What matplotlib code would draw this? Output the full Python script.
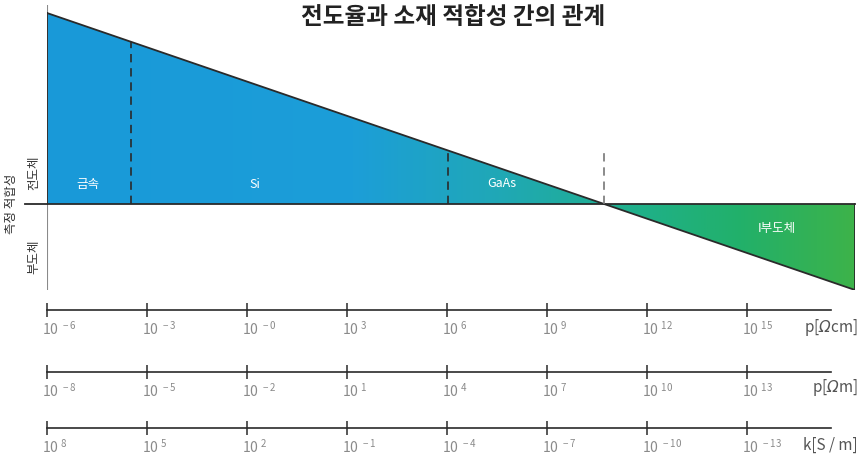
"""
Conductivity vs. material suitability chart with three resistivity/conductivity scales
"""

import matplotlib
matplotlib.use('Agg')
import numpy as np
import matplotlib.pyplot as plt
from matplotlib.colors import LinearSegmentedColormap
from matplotlib.path import Path
from matplotlib.patches import PathPatch
from matplotlib.transforms import ScaledTranslation

plt.rcParams['font.family'] = ['Noto Sans CJK KR', 'DejaVu Sans']
# slanted Omega in the unit labels
plt.rcParams['mathtext.fontset'] = 'custom'
plt.rcParams['mathtext.rm'] = 'DejaVu Sans:italic'
plt.rcParams['mathtext.it'] = 'DejaVu Sans:italic'

W, H = 861, 457

# suitability line: log10(rho [Ohm cm]) at both ends and the suitability there
rho_range = [-6.0, 18.24]
suitability = [1.0, -0.45]

# material regions
materials = ['금속', 'Si', 'GaAs', 'I부도체']
material_x = [-4.77, 0.24, 7.65, 15.9]
material_y = [0.10, 0.10, 0.11, -0.13]
borders = [-3.48, 6.03]   # metal/Si, Si/GaAs
marker_top = 0.28         # height of the dashed mark at the zero crossing

# scale ticks, in log10(rho [Ohm cm])
scale_ticks = [-6, -3, 0, 3, 6, 9, 12, 15]
rho_cm_labels = ['-6', '-3', '-0', '3', '6', '9', '12', '15']
rho_m_labels = ['-8', '-5', '-2', '1', '4', '7', '10', '13']
kappa_labels = ['8', '5', '2', '-1', '-4', '-7', '-10', '-13']
scale_units = [r'p[$\Omega$cm]', r'p[$\Omega$m]', 'k[S / m]']

grad_colors = [(0.0, '#1999d9'), (0.38, '#1c9ed8'), (0.56, '#20a8b6'),
               (0.73, '#1fb08a'), (0.86, '#22b06a'), (1.0, '#3db34a')]


def px_box(x0, y0, x1, y1):
    """ figure-fraction rect from pixel corners (y measured from top) """
    return [x0 / W, 1 - y1 / H, (x1 - x0) / W, (y1 - y0) / H]


fig = plt.figure(figsize=(W / 100, H / 100), dpi=100)

# ---- main panel ----
ax = fig.add_axes(px_box(47, 5, 855, 290))
ax.set_xlim(rho_range)
ax.set_ylim(suitability[1], 1.0 + 8 / 191)
ax.set_axis_off()

x0, x1 = rho_range
y0, y1 = suitability
xc = x0 + (x1 - x0) * y0 / (y0 - y1)  # zero crossing

upper = Path([(x0, 0), (x0, y0), (xc, 0), (x0, 0)], closed=True)
lower = Path([(xc, 0), (x1, 0), (x1, y1), (xc, 0)], closed=True)
shape = PathPatch(Path.make_compound_path(upper, lower), facecolor='none',
                  edgecolor='none', transform=ax.transData)
ax.add_patch(shape)

cmap = LinearSegmentedColormap.from_list('cond', grad_colors)
im = ax.imshow(np.linspace(0, 1, 512)[None, :], cmap=cmap, aspect='auto',
               extent=[x0, x1, y1, y0], origin='lower', zorder=1)
im.set_clip_path(shape)

# outline
ax.plot(rho_range, suitability, color='#2a2a2a', lw=1.3, zorder=3)
ax.plot([x0 - 0.66, x1], [0, 0], color='#2a2a2a', lw=1.3, zorder=3,
        clip_on=False)
ax.plot([x1, x1], [0, y1], color='#2a2a2a', lw=1.3, zorder=3)
ax.plot([x0, x0], [ax.get_ylim()[1], y1], color='#8a8a8a', lw=1.5, zorder=2)
ax.plot([x0, x0], [0, y0], color='#2a2a2a', lw=1.3, zorder=3)

for b in borders:
    top = np.interp(b, rho_range, suitability)
    ax.plot([b, b], [0, top], color='#2a2a2a', lw=1.2, ls=(0, (5, 3.5)),
            zorder=3)
ax.plot([xc, xc], [0, marker_top], color='#777777', lw=1.2,
        ls=(0, (5, 3.5)), zorder=3)

for name, mx, my in zip(materials, material_x, material_y):
    ax.text(mx, my, name, color='white', fontsize=9, ha='center',
            va='center', zorder=4)

# ---- side labels ----
fig.text(12 / W, 1 - 204 / H, '측정 적합성', rotation=90, ha='center',
         va='center', fontsize=9, color='#333333')
fig.text(34 / W, 1 - 173 / H, '전도체', rotation=90, ha='center',
         va='center', fontsize=9, color='#333333')
fig.text(34 / W, 1 - 257 / H, '부도체', rotation=90, ha='center',
         va='center', fontsize=9, color='#333333')

fig.text(453 / W, 1 - 17 / H, '전도율과 소재 적합성 간의 관계',
         ha='center', va='center', fontsize=17, fontweight='bold',
         color='#222222')

# ---- scales ----
scale_y = [310, 372, 428]
unit_y = [328, 388, 445]
shift = ScaledTranslation(-5 / 100, 0, fig.dpi_scale_trans)
for sy, uy, labels, unit in zip(scale_y, unit_y,
                                [rho_cm_labels, rho_m_labels, kappa_labels],
                                scale_units):
    sax = fig.add_axes(px_box(47, sy - 4, 831, sy))
    sax.set_xlim(x0, x0 + 784 * 0.03)
    sax.set_ylim(0, 1)
    sax.patch.set_visible(False)
    for side in ('top', 'left', 'right'):
        sax.spines[side].set_visible(False)
    sax.spines['bottom'].set_color('#2a2a2a')
    sax.spines['bottom'].set_linewidth(1.2)
    sax.set_yticks([])
    sax.set_xticks(scale_ticks)
    sax.set_xticklabels([r'$\mathregular{10^{\ %s}}$' % l.replace('-', '−')
                         for l in labels])
    sax.tick_params(axis='x', direction='inout', length=10, width=1.1,
                    color='#2a2a2a', labelsize=10, labelcolor='#8a8a8a',
                    pad=2)
    for lab in sax.get_xticklabels():
        lab.set_horizontalalignment('left')
        lab.set_transform(lab.get_transform() + shift)
    fig.text(858 / W, 1 - uy / H, unit, ha='right', va='center',
             fontsize=11, color='#555555')

fig.savefig('out.png', dpi=100)
plt.close(fig)
